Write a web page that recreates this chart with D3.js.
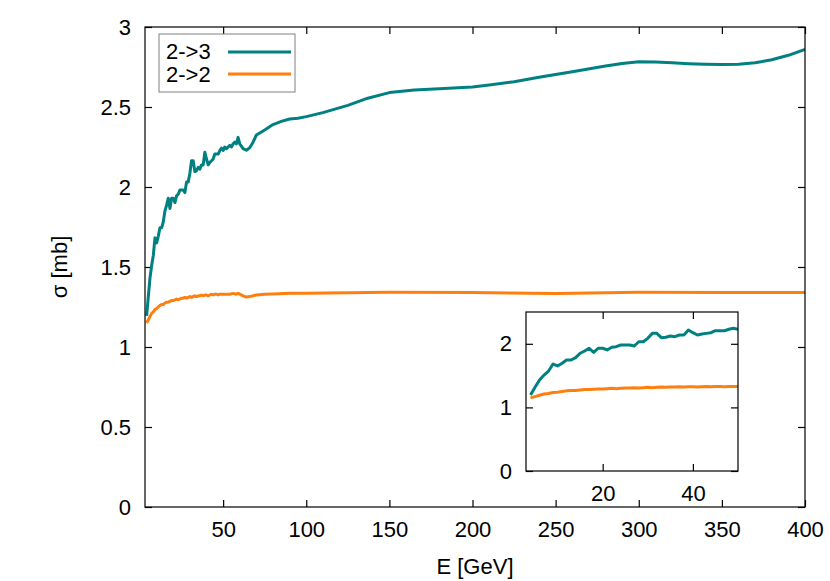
<!DOCTYPE html>
<html>
<head>
<meta charset="utf-8">
<script src="https://cdn.jsdelivr.net/npm/d3@7"></script>
<style>
  body { margin: 0; background: #fff; }
  svg { display: block; font-family: "Liberation Sans", Arial, sans-serif; }
  .axis text { font-size: 22px; fill: #000; }
  .axis line { stroke: #000; stroke-width: 1.2; }
  .axis path { display: none; }
</style>
</head>
<body>
<div id="chart"></div>
<script>
// 2->3 cross section
const energy23 = [4,5,6,7,8,9,10,11,12,13,14,15,16,17,18,19,20,21,22,23,24,25,26,27,28,29,30,31,32,33,34,35,36,37,38,39,40,41,42,43,44,45,46,47,48,49,50,
  51,52,53,54,55,56,57,58,59,60,62,64,66,68,70,75,80,85,90,95,100,110,125,137,150,165,180,200,210,225,240,260,280,290,300,310,320,330,340,350,360,370,380,390,400];
const sigma23 = [1.195,1.316,1.431,1.509,1.572,1.682,1.651,1.693,1.745,1.745,1.782,1.851,1.887,1.930,1.866,1.930,1.930,1.903,1.945,1.955,1.981,1.981,1.981,1.965,2.032,2.032,2.086,2.164,2.164,2.096,2.102,2.123,2.112,2.138,2.138,2.217,2.175,2.138,2.154,2.164,2.175,2.206,2.206,2.206,2.228,2.244,2.228,
  2.25,2.24,2.25,2.26,2.25,2.27,2.28,2.27,2.31,2.27,2.24,2.23,2.245,2.28,2.325,2.356,2.39,2.41,2.425,2.43,2.44,2.465,2.51,2.555,2.59,2.606,2.614,2.625,2.637,2.658,2.686,2.72,2.756,2.772,2.783,2.781,2.776,2.771,2.767,2.765,2.767,2.776,2.795,2.823,2.86];

// 2->2 cross section
const energy22 = [4,5,6,7,8,9,10,11,12,13,14,15,16,17,18,19,20,21,22,23,24,25,26,27,28,29,30,31,32,33,34,35,36,37,38,39,40,41,42,43,44,45,46,47,48,49,50,
  52,54,56,58,59,60,62,64,66,68,70,75,80,90,100,150,200,250,300,350,400];
const sigma22 = [1.15,1.17,1.19,1.21,1.22,1.235,1.24,1.25,1.26,1.265,1.265,1.275,1.28,1.28,1.285,1.29,1.29,1.295,1.30,1.295,1.30,1.305,1.305,1.31,1.305,1.31,1.315,1.31,1.315,1.32,1.315,1.32,1.32,1.325,1.32,1.325,1.325,1.32,1.325,1.33,1.325,1.33,1.33,1.325,1.33,1.33,1.33,
  1.33,1.33,1.335,1.33,1.335,1.33,1.32,1.312,1.315,1.32,1.325,1.329,1.332,1.336,1.336,1.342,1.34,1.335,1.342,1.34,1.34];

const xTicks = [50,100,150,200,250,300,350,400];
const yTicks = [0,0.5,1,1.5,2,2.5,3];
const insetXTicks = [20,40];
const insetYTicks = [0,1,2];
const seriesNames = ["2->3", "2->2"];
const seriesColors = ["#008080", "#ff7f0e"];

const data23 = energy23.map((e, i) => ({x: e, y: sigma23[i]}));
const data22 = energy22.map((e, i) => ({x: e, y: sigma22[i]}));
const series = [data23, data22];

const W = 830, H = 581;
const svg = d3.select('#chart').append('svg')
  .attr('width', W)
  .attr('height', H);

const fmt = d => String(d);

// Draw one framed panel with mirrored inward ticks
function panel(x0, x1, y0, y1, xDom, yDom, xt, yt, clipId) {
  const xScale = d3.scaleLinear().domain(xDom).range([x0, x1]);
  const yScale = d3.scaleLinear().domain(yDom).range([y1, y0]);

  svg.append('rect')
    .attr('x', x0).attr('y', y0)
    .attr('width', x1 - x0).attr('height', y1 - y0)
    .attr('fill', '#fff');

  svg.append('clipPath').attr('id', clipId)
    .append('rect')
    .attr('x', x0).attr('y', y0)
    .attr('width', x1 - x0).attr('height', y1 - y0);

  svg.append('g').attr('class', 'axis')
    .attr('transform', `translate(0, ${y1})`)
    .call(d3.axisBottom(xScale).tickValues(xt).tickFormat(fmt).tickSizeInner(-7).tickSizeOuter(0).tickPadding(14));
  svg.append('g').attr('class', 'axis')
    .attr('transform', `translate(0, ${y0})`)
    .call(d3.axisTop(xScale).tickValues(xt).tickSizeInner(-7).tickSizeOuter(0).tickFormat(''));
  svg.append('g').attr('class', 'axis')
    .attr('transform', `translate(${x0}, 0)`)
    .call(d3.axisLeft(yScale).tickValues(yt).tickFormat(fmt).tickSizeInner(-7).tickSizeOuter(0).tickPadding(14));
  svg.append('g').attr('class', 'axis')
    .attr('transform', `translate(${x1}, 0)`)
    .call(d3.axisRight(yScale).tickValues(yt).tickSizeInner(-7).tickSizeOuter(0).tickFormat(''));

  const line = d3.line().x(d => xScale(d.x)).y(d => yScale(d.y));
  const lines = svg.append('g').attr('clip-path', `url(#${clipId})`);
  series.forEach((s, i) => {
    lines.append('path')
      .datum(s.filter(d => d.x <= xDom[1] + 5))
      .attr('d', line)
      .attr('fill', 'none')
      .attr('stroke', seriesColors[i])
      .attr('stroke-width', 3)
      .attr('stroke-linejoin', 'round');
  });

  svg.append('rect')
    .attr('x', x0).attr('y', y0)
    .attr('width', x1 - x0).attr('height', y1 - y0)
    .attr('fill', 'none')
    .attr('stroke', '#000')
    .attr('stroke-width', 1.2);
}

// main plot
panel(145, 805, 27, 507, [3, 400], [0, 3], xTicks, yTicks, 'clip-main');

// axis titles
svg.append('text')
  .attr('x', 475).attr('y', 574)
  .attr('text-anchor', 'middle')
  .attr('font-size', 22)
  .text('E [GeV]');
svg.append('text')
  .attr('transform', 'translate(67, 267) rotate(-90)')
  .attr('text-anchor', 'middle')
  .attr('font-size', 22)
  .text('σ [mb]');

// legend
const legend = svg.append('g');
legend.append('rect')
  .attr('x', 159).attr('y', 34)
  .attr('width', 136).attr('height', 58)
  .attr('fill', '#fff')
  .attr('stroke', '#808080')
  .attr('stroke-width', 1);
seriesNames.forEach((name, i) => {
  legend.append('text')
    .attr('x', 166).attr('y', 59 + i * 23)
    .attr('font-size', 22)
    .text(name);
  legend.append('line')
    .attr('x1', 228).attr('x2', 291)
    .attr('y1', 52 + i * 22).attr('y2', 52 + i * 22)
    .attr('stroke', seriesColors[i])
    .attr('stroke-width', 3);
});

// inset zoom on low energies
panel(526, 738, 312, 471, [3, 50], [0, 2.5], insetXTicks, insetYTicks, 'clip-inset');
</script>
</body>
</html>
